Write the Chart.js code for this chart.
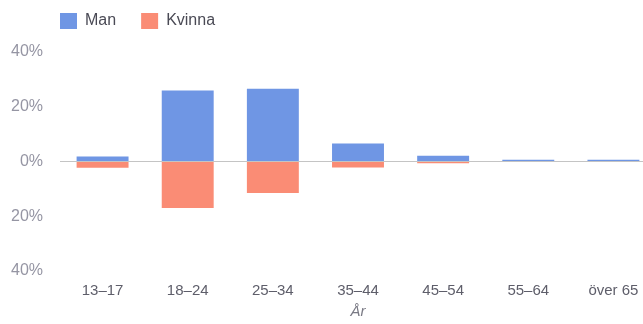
<!DOCTYPE html>
<html>
<head>
<meta charset="utf-8">
<script src="https://cdn.jsdelivr.net/npm/chart.js@4"></script>
<style>
  html, body { margin: 0; padding: 0; background: #fff; overflow: hidden; }
  #wrap { width: 656px; height: 324px; }
</style>
</head>
<body>
<div id="wrap"><canvas id="ageChart" width="656" height="324"></canvas></div>
<script>
// age groups and share of users (%)
const ageGroups = ["13–17", "18–24", "25–34", "35–44", "45–54", "55–64", "över 65"];
const manShare = [1.8, 25.9, 26.6, 6.6, 2.1, 0.6, 0.6];
const kvinnaShare = [2.3, 17.0, 11.5, 2.2, 0.6, 0.2, 0.2];
const yTicks = [-40, -20, 0, 20, 40];

const FONT = "'Liberation Sans', Arial, sans-serif";
const LEGEND_PAD = 25;

// legend: fixed height above the plot, first box lined up with the plot's left edge
const legendTweak = {
  id: "legendTweak",
  beforeInit(chart) {
    const fit = chart.legend.fit;
    chart.legend.fit = function () {
      fit.call(this);
      this.height = 52;
    };
  },
  afterLayout(chart) {
    if (!chart.legend) return;
    chart.legend.left = chart.chartArea.left - LEGEND_PAD;
    chart.legend.top = 13 - LEGEND_PAD;
  }
};

new Chart(document.getElementById("ageChart"), {
  type: "bar",
  data: {
    labels: ageGroups,
    datasets: [
      {
        label: "Man",
        data: manShare,
        backgroundColor: "#6f96e4",
        stack: "s"
      },
      {
        label: "Kvinna",
        data: kvinnaShare.map(v => -v),
        backgroundColor: "#fa8c75",
        stack: "s"
      }
    ]
  },
  options: {
    responsive: false,
    animation: false,
    layout: { padding: 0 },
    datasets: { bar: { categoryPercentage: 1, barPercentage: 0.61 } },
    plugins: {
      tooltip: { enabled: false },
      legend: {
        position: "top",
        align: "start",
        labels: {
          boxWidth: 17,
          boxHeight: 16,
          padding: LEGEND_PAD,
          color: "#4a4a55",
          font: { family: FONT, size: 16 }
        }
      }
    },
    scales: {
      x: {
        stacked: true,
        grid: { display: false },
        border: { display: false },
        ticks: { color: "#5e5e6a", padding: 3, font: { family: FONT, size: 15 } },
        title: {
          display: true,
          text: "År",
          color: "#7a7a85",
          padding: { top: 0, bottom: 3 },
          font: { family: FONT, size: 15, style: "italic" }
        }
      },
      y: {
        stacked: true,
        min: -40,
        max: 40,
        afterFit: s => { s.width = 60; },
        afterBuildTicks: s => { s.ticks = yTicks.map(v => ({ value: v })); },
        grid: {
          drawTicks: false,
          color: c => c.tick && c.tick.value === 0 ? "#c4c4c4" : "rgba(0,0,0,0)"
        },
        border: { display: false },
        ticks: {
          padding: 17,
          color: "#9595a3",
          font: { family: FONT, size: 16 },
          callback: v => Math.abs(v) + "%"
        }
      }
    }
  },
  plugins: [legendTweak]
});
</script>
</body>
</html>
